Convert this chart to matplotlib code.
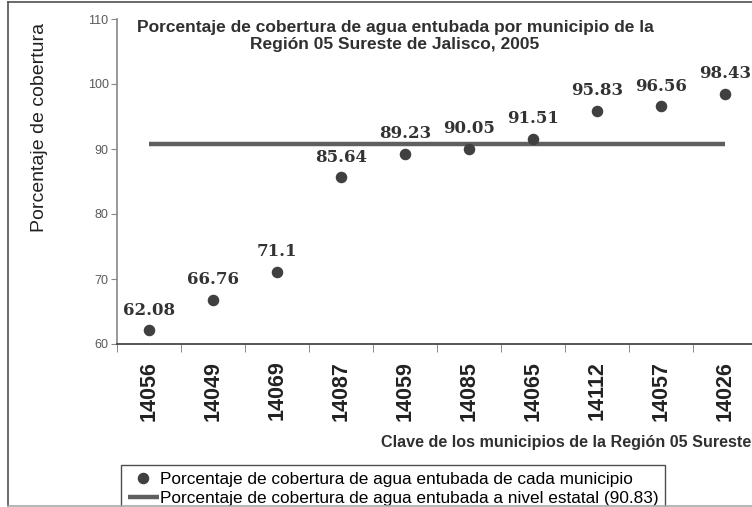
import numpy as np
import matplotlib
matplotlib.use("Agg")
import matplotlib.pyplot as plt
from matplotlib.lines import Line2D

# Datos: cobertura de agua entubada por municipio, Region 05 Sureste, 2005
claves = ["14056", "14049", "14069", "14087", "14059",
          "14085", "14065", "14112", "14057", "14026"]
cobertura = [62.08, 66.76, 71.1, 85.64, 89.23, 90.05, 91.51, 95.83, 96.56, 98.43]
etiquetas = ["62.08", "66.76", "71.1", "85.64", "89.23",
             "90.05", "91.51", "95.83", "96.56", "98.43"]
estatal = 90.83
yticks = [60, 70, 80, 90, 100, 110]

plt.rcParams['font.family'] = ['Liberation Sans', 'DejaVu Sans']

W, H = 752, 507
fig = plt.figure(figsize=(W / 100, H / 100), dpi=100)
ax = fig.add_axes([117 / W, 1 - 344 / H, 640 / W, 325 / H])

x = np.arange(len(claves))
ax.plot(x, [estatal] * len(x), color='#5f5f5f', lw=3.2, solid_capstyle='butt',
        label='Porcentaje de cobertura de agua entubada a nivel estatal (90.83)', zorder=2)
ax.plot(x, cobertura, 'o', color='#404040', ms=7.3, ls='none',
        label='Porcentaje de cobertura de agua entubada de cada municipio', zorder=3)

for xi, yi, t in zip(x, cobertura, etiquetas):
    ax.annotate(t, (xi, yi), xytext=(0, 8.5), textcoords='offset points',
                ha='center', va='bottom', fontsize=12, fontweight='bold',
                family='DejaVu Serif', color='#333333')

ax.set_xlim(-0.5, len(claves) - 0.5)
ax.set_ylim(60, 110)
ax.set_yticks(yticks)
ax.tick_params(axis='y', labelsize=9, labelcolor='#595959', color='#888888',
               length=4.5, pad=1.5)
ax.set_xticks(x)
ax.set_xticklabels(claves, rotation=90, fontsize=15.5, fontweight='bold', color='#222222')
ax.tick_params(axis='x', which='major', length=0, pad=12)
ax.set_xticks(np.arange(-0.5, len(claves), 1.0), minor=True)
ax.tick_params(axis='x', which='minor', length=5.5, color='#777777')

ax.spines['top'].set_visible(False)
ax.spines['right'].set_visible(False)
ax.spines['left'].set_color('#888888')
ax.spines['bottom'].set_color('#3a3a3a')
ax.spines['left'].set_linewidth(1.2)
ax.spines['bottom'].set_linewidth(1.2)

fig.text(395 / W, 1 - 36 / H,
         "Porcentaje de cobertura de agua entubada por municipio de la\n"
         "Región 05 Sureste de Jalisco, 2005",
         ha='center', va='center', fontsize=12.5, fontweight='bold',
         color='#303030', linespacing=1.15)

fig.text(40 / W, 1 - 127 / H, "Porcentaje de cobertura", rotation=90,
         ha='center', va='center', fontsize=14, color='#222222')

fig.text(751 / W, 1 - 443 / H, "Clave de los municipios de la Región 05 Sureste",
         ha='right', va='center', fontsize=11.6, fontweight='bold', color='#303030')

handles, labels = ax.get_legend_handles_labels()
leg = fig.legend(handles[::-1], labels[::-1], loc='upper left',
                 bbox_to_anchor=(121 / W, 1 - 465 / H), fontsize=12.4,
                 frameon=True, fancybox=False, edgecolor='#222222',
                 handlelength=1.8, handletextpad=0.05, borderpad=0.4,
                 labelspacing=0.25, borderaxespad=0)
leg.get_frame().set_linewidth(1.0)

# marco exterior
fig.add_artist(Line2D([7.5 / W, 7.5 / W], [1 - 505.5 / H, 1 - 1.5 / H],
                      color='#505050', lw=1.2))
fig.add_artist(Line2D([7.5 / W, 1], [1 - 1.5 / H, 1 - 1.5 / H],
                      color='#505050', lw=1.2))
fig.add_artist(Line2D([7.5 / W, 1], [1 - 505.5 / H, 1 - 505.5 / H],
                      color='#aaaaaa', lw=1.2, zorder=10))

fig.savefig("out.png", dpi=100)
